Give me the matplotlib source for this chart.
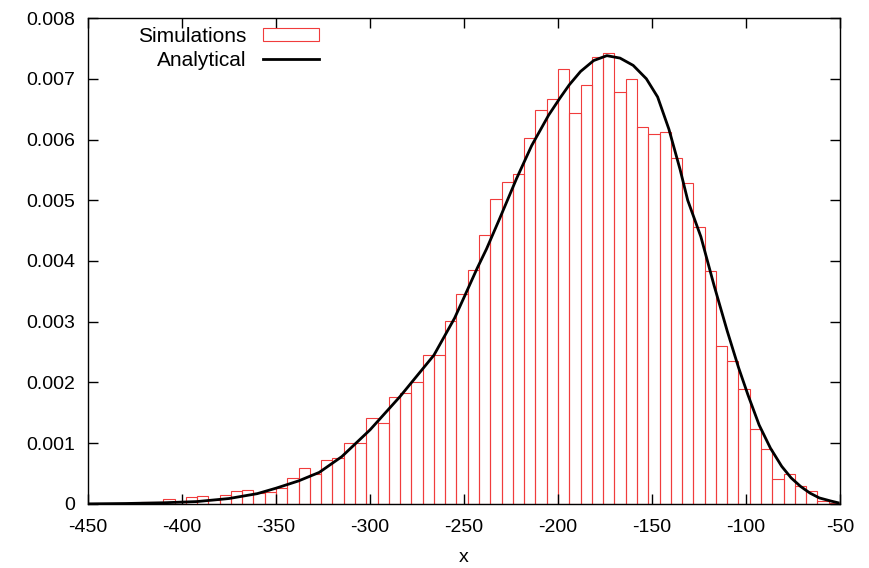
import numpy as np
import matplotlib
matplotlib.use("Agg")
import matplotlib.pyplot as plt
from matplotlib.patches import Rectangle
from matplotlib.lines import Line2D

plt.rcParams['font.family'] = ['Liberation Sans', 'DejaVu Sans']

# histogram of simulations: bins of width 6 starting at -422
bin_start = -422
bin_width = 6
sim_heights = [
    0.00003, 0.00004, 0.00008, 0.00004, 0.00011, 0.00013, 0.00006, 0.00014,
    0.00021, 0.00023, 0.00018, 0.00019, 0.00027, 0.00042, 0.00060, 0.00050,
    0.00072, 0.00075, 0.00100, 0.00100, 0.00141, 0.00133, 0.00176, 0.00182,
    0.00201, 0.00245, 0.00245, 0.00301, 0.00346, 0.00385, 0.00443, 0.00502,
    0.00530, 0.00543, 0.00602, 0.00649, 0.00667, 0.00716, 0.00643, 0.00689,
    0.00735, 0.00742, 0.00678, 0.00700, 0.00620, 0.00609, 0.00612, 0.00569,
    0.00528, 0.00456, 0.00384, 0.00260, 0.00236, 0.00189, 0.00123, 0.00090,
    0.00041, 0.00050, 0.00030, 0.00021, 0.00005, 0.00002,
]

# analytical density
ana_x = [-450, -430, -410, -392, -375, -360, -350, -338, -327, -315, -300,
         -284, -266, -255, -250, -243, -238, -231, -222, -214, -205, -199,
         -194, -188, -181, -174, -167, -160, -153, -147, -141, -135, -131,
         -124, -117, -110, -104, -99, -93, -87, -81, -76, -71, -66, -61,
         -55, -51]
ana_y = [0.000002, 0.000008, 0.00002, 0.00004, 0.00009, 0.00017, 0.00026,
         0.00038, 0.00052, 0.00078, 0.00122, 0.00177, 0.00245, 0.00306,
         0.00340, 0.00388, 0.00420, 0.00470, 0.00536, 0.00590, 0.00640,
         0.00668, 0.00690, 0.00712, 0.00730, 0.00738, 0.00734, 0.00722,
         0.00700, 0.00670, 0.00617, 0.00550, 0.00500, 0.00440, 0.00360,
         0.00285, 0.00225, 0.00180, 0.00130, 0.00092, 0.00062, 0.00043,
         0.00029, 0.00018, 0.00010, 0.00005, 0.00002]

xticks = [-450, -400, -350, -300, -250, -200, -150, -100, -50]
yticks = [0, 0.001, 0.002, 0.003, 0.004, 0.005, 0.006, 0.007, 0.008]
ytick_labels = ['0', '0.001', '0.002', '0.003', '0.004', '0.005', '0.006',
                '0.007', '0.008']

fig = plt.figure(figsize=(8.69, 5.68), dpi=100)
ax = fig.add_axes([0.1013, 0.1127, 0.8653, 0.8556])

red = '#f03c3c'
lefts = bin_start + bin_width * np.arange(len(sim_heights))
ax.bar(lefts, sim_heights, width=bin_width, align='edge', fill=False,
       edgecolor=red, linewidth=0.8)
ax.plot(ana_x, ana_y, color='black', linewidth=2)

ax.set_xlim(-450, -50)
ax.set_ylim(0, 0.008)
ax.set_xticks(xticks)
ax.set_xticklabels([str(v) for v in xticks])
ax.set_yticks(yticks)
ax.set_yticklabels(ytick_labels)
ax.tick_params(direction='in', length=7, width=1, top=True, right=True,
               labelsize=14)
ax.tick_params(axis='x', pad=11)
ax.tick_params(axis='y', pad=9)
for s in ax.spines.values():
    s.set_linewidth(1)
ax.set_xlabel('x', fontsize=14, labelpad=9)

handles = [Rectangle((0, 0), 1, 1, fill=False, edgecolor=red, linewidth=0.8),
           Line2D([], [], color='black', linewidth=2)]
ax.legend(handles, ['Simulations', 'Analytical'], loc='upper right',
          bbox_to_anchor=(0.313, 0.99), markerfirst=False, frameon=False,
          fontsize=15, handlelength=2.7, handleheight=0.55, labelspacing=0.25,
          handletextpad=0.8, borderaxespad=0.0, borderpad=0.2)

fig.savefig('out.png', dpi=100)
